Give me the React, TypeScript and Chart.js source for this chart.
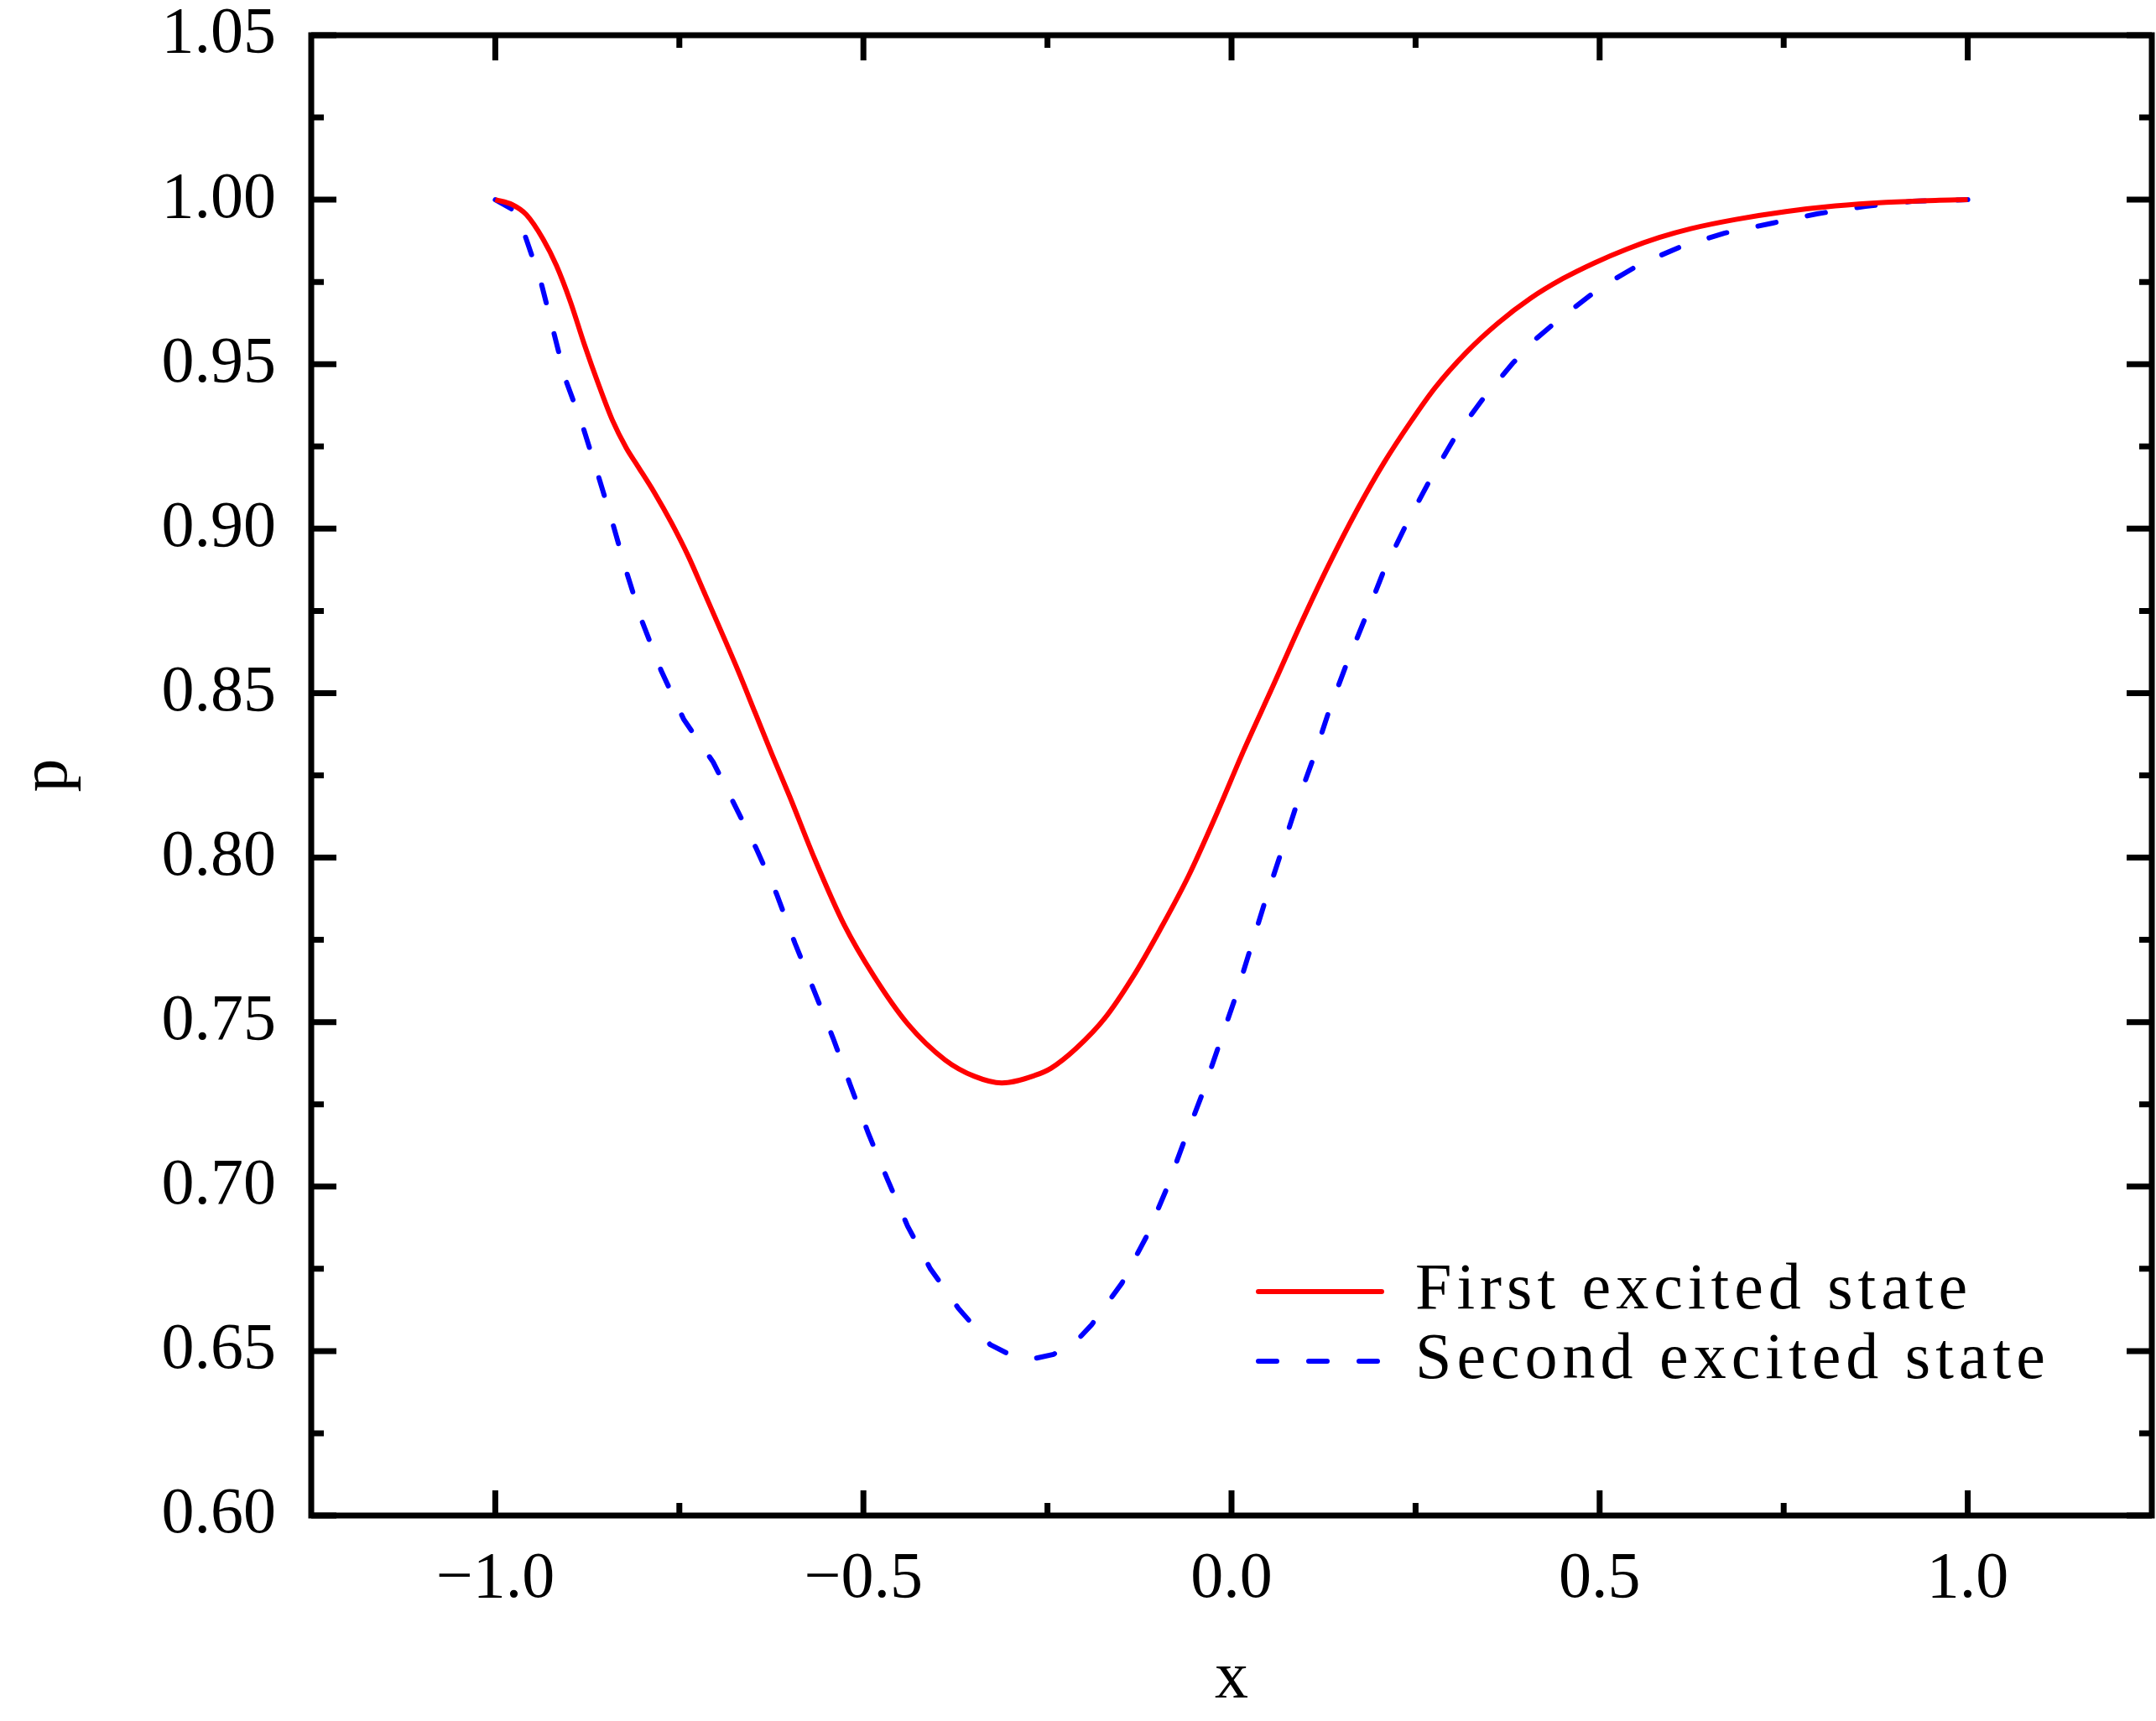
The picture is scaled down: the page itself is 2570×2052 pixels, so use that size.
import { useEffect, useRef } from 'react';
import { Chart, registerables } from 'chart.js';
import type { Plugin, Scale } from 'chart.js';

Chart.register(...registerables);

// first excited state (solid red)
const firstX = [
  -1.0, -0.977, -0.958, -0.935, -0.917, -0.898, -0.879, -0.86, -0.841, -0.822,
  -0.807, -0.784, -0.761, -0.738, -0.716, -0.693, -0.67, -0.647, -0.624, -0.6,
  -0.566, -0.526, -0.485, -0.44, -0.389, -0.349, -0.312, -0.267, -0.245, -0.211,
  -0.172, -0.134, -0.097, -0.058, -0.02, 0.017, 0.056, 0.093, 0.131, 0.17,
  0.207, 0.245, 0.276, 0.319, 0.362, 0.406, 0.45, 0.493, 0.537, 0.581,
  0.624, 0.685, 0.753, 0.82, 0.889, 0.956, 1.0,
];
const firstP = [
  1.0, 0.9985, 0.9955, 0.988, 0.98, 0.969, 0.956, 0.944, 0.933, 0.9245,
  0.9192, 0.911, 0.9019, 0.8917, 0.8805, 0.8687, 0.8567, 0.844, 0.8313, 0.8185,
  0.7995, 0.7795, 0.7637, 0.7495, 0.7385, 0.7335, 0.7315, 0.7338, 0.736, 0.742,
  0.7512, 0.7637, 0.7781, 0.7946, 0.8134, 0.8328, 0.852, 0.8705, 0.8885, 0.9055,
  0.92, 0.933, 0.9427, 0.9536, 0.9625, 0.97, 0.976, 0.9808, 0.985, 0.9885,
  0.9912, 0.994, 0.9964, 0.9981, 0.9992, 0.9998, 1.0,
];

// second excited state (dashed blue)
const secondX = [
  -1.0, -0.978, -0.961, -0.938, -0.921, -0.904, -0.881, -0.86, -0.841, -0.822,
  -0.801, -0.775, -0.744, -0.704, -0.676, -0.646, -0.618, -0.593, -0.566, -0.541,
  -0.518, -0.493, -0.467, -0.44, -0.409, -0.371, -0.328, -0.302, -0.272, -0.242,
  -0.213, -0.19, -0.149, -0.116, -0.088, -0.064, -0.04, -0.017, 0.006, 0.026,
  0.046, 0.068, 0.089, 0.112, 0.133, 0.157, 0.183, 0.207, 0.238, 0.271,
  0.305, 0.342, 0.382, 0.415, 0.443, 0.501, 0.555, 0.611, 0.669, 0.735,
  0.795, 0.861, 0.924, 1.0,
];
const secondP = [
  1.0, 0.9972, 0.99, 0.975, 0.96, 0.945, 0.931, 0.916, 0.902, 0.887,
  0.872, 0.857, 0.842, 0.829, 0.8165, 0.803, 0.789, 0.774, 0.759, 0.745,
  0.731, 0.716, 0.702, 0.688, 0.675, 0.663, 0.652, 0.649, 0.6475, 0.649,
  0.6525, 0.658, 0.6706, 0.6846, 0.6994, 0.714, 0.728, 0.743, 0.758, 0.7725,
  0.787, 0.802, 0.8165, 0.8307, 0.845, 0.8593, 0.8736, 0.8873, 0.9016, 0.9154,
  0.9284, 0.9396, 0.9503, 0.958, 0.9633, 0.9733, 0.9804, 0.9858, 0.9898, 0.9929,
  0.9957, 0.998, 0.9995, 1.0,
];

const seriesLabels = ['First excited state', 'Second excited state'];

const xMajor = [-1.0, -0.5, 0.0, 0.5, 1.0];
const xMinor = [-0.75, -0.25, 0.25, 0.75];
const yMajor = [0.6, 0.65, 0.7, 0.75, 0.8, 0.85, 0.9, 0.95, 1.0, 1.05];
const yMinor = [0.625, 0.675, 0.725, 0.775, 0.825, 0.875, 0.925, 0.975, 1.025];

const FONT = 'Liberation Serif';
const W = 2570;
const H = 2052;

const fmt = (v: number, digits: number) => v.toFixed(digits).replace('-', '\u2212');

// box around the plot with inward ticks on all four sides
const frameTicks: Plugin<'line'> = {
  id: 'frameTicks',
  afterDraw(chart) {
    const { ctx, chartArea: a } = chart;
    const xs = chart.scales.x as Scale;
    const ys = chart.scales.y as Scale;
    ctx.save();
    ctx.strokeStyle = '#000';
    ctx.lineWidth = 7;
    ctx.lineCap = 'butt';
    ctx.lineJoin = 'miter';
    ctx.strokeRect(a.left, a.top, a.right - a.left, a.bottom - a.top);
    ctx.beginPath();
    const xTicks = (vals: number[], len: number) => {
      vals.forEach((v) => {
        const px = xs.getPixelForValue(v);
        ctx.moveTo(px, a.bottom);
        ctx.lineTo(px, a.bottom - len);
        ctx.moveTo(px, a.top);
        ctx.lineTo(px, a.top + len);
      });
    };
    const yTicks = (vals: number[], len: number) => {
      vals.forEach((v) => {
        const py = ys.getPixelForValue(v);
        ctx.moveTo(a.left, py);
        ctx.lineTo(a.left + len, py);
        ctx.moveTo(a.right, py);
        ctx.lineTo(a.right - len, py);
      });
    };
    xTicks(xMajor, 30);
    xTicks(xMinor, 15);
    yTicks(yMajor, 30);
    yTicks(yMinor, 15);
    ctx.stroke();
    ctx.restore();
  },
};

// legend in the lower right of the plot
const insideLegend: Plugin<'line'> = {
  id: 'insideLegend',
  afterDraw(chart) {
    const { ctx, chartArea: a } = chart;
    ctx.save();
    ctx.font = `78px "${FONT}"`;
    ctx.textBaseline = 'middle';
    ctx.textAlign = 'left';
    (ctx as any).letterSpacing = '6px';
    chart.data.datasets.forEach((ds: any, i) => {
      const yy = a.bottom - 267 + i * 83;
      const x0 = a.right - 1065;
      ctx.strokeStyle = ds.borderColor;
      ctx.lineWidth = ds.borderWidth;
      ctx.lineCap = 'round';
      ctx.setLineDash(ds.borderDash || []);
      ctx.beginPath();
      ctx.moveTo(x0, yy);
      ctx.lineTo(x0 + 147, yy);
      ctx.stroke();
      ctx.setLineDash([]);
      ctx.fillStyle = '#000';
      ctx.fillText(ds.label ?? '', a.right - 878, yy);
    });
    ctx.restore();
  },
};

export default function App() {
  const canvasRef = useRef<HTMLCanvasElement>(null);
  const chartRef = useRef<Chart | null>(null);

  useEffect(() => {
    if (!canvasRef.current) return;
    if (chartRef.current) chartRef.current.destroy();

    const tickFont = { family: FONT, size: 78 };
    const titleFont = { family: FONT, size: 80 };

    chartRef.current = new Chart(canvasRef.current, {
      type: 'line',
      data: {
        datasets: [
          {
            label: seriesLabels[0],
            data: firstX.map((x, i) => ({ x, y: firstP[i] })),
            borderColor: '#ff0000',
            borderWidth: 6,
            cubicInterpolationMode: 'monotone',
            pointRadius: 0,
            fill: false,
          },
          {
            label: seriesLabels[1],
            data: secondX.map((x, i) => ({ x, y: secondP[i] })),
            borderColor: '#0000ff',
            borderWidth: 6,
            borderDash: [22, 38],
            borderCapStyle: 'round',
            tension: 0,
            pointRadius: 0,
            fill: false,
          },
        ],
      },
      options: {
        animation: false,
        responsive: false,
        devicePixelRatio: 1,
        layout: { padding: { top: 42, right: 5, left: 0, bottom: 0 } },
        plugins: {
          legend: { display: false },
          tooltip: { enabled: false },
        },
        scales: {
          x: {
            type: 'linear',
            min: -1.25,
            max: 1.25,
            grid: { display: false, drawTicks: false },
            border: { display: false },
            afterBuildTicks: (s: any) => {
              s.ticks = xMajor.map((value) => ({ value }));
            },
            afterFit: (s: any) => {
              s.height = H - 1807;
              s.paddingLeft = 0;
              s.paddingRight = 0;
            },
            ticks: {
              color: '#000',
              font: tickFont,
              padding: 30,
              maxRotation: 0,
              autoSkip: false,
              callback: (v) => fmt(Number(v), 1),
            },
            title: {
              display: true,
              text: 'x',
              color: '#000',
              font: titleFont,
              padding: { top: 0, bottom: 1 },
            },
          },
          y: {
            type: 'linear',
            min: 0.6,
            max: 1.05,
            grid: { display: false, drawTicks: false },
            border: { display: false },
            afterBuildTicks: (s: any) => {
              s.ticks = yMajor.map((value) => ({ value }));
            },
            afterFit: (s: any) => {
              s.width = 371;
              s.paddingTop = 0;
              s.paddingBottom = 0;
            },
            ticks: {
              color: '#000',
              font: tickFont,
              padding: 42,
              autoSkip: false,
              callback: (v) => fmt(Number(v), 2),
            },
            title: {
              display: true,
              text: 'p',
              color: '#000',
              font: titleFont,
              padding: { top: 10, bottom: 0 },
            },
          },
        },
      },
      plugins: [frameTicks, insideLegend],
    });

    return () => {
      chartRef.current?.destroy();
      chartRef.current = null;
    };
  }, []);

  return (
    <div style={{ position: 'fixed', left: 0, top: 0, width: W, height: H, background: '#fff' }}>
      <canvas ref={canvasRef} width={W} height={H} />
    </div>
  );
}
